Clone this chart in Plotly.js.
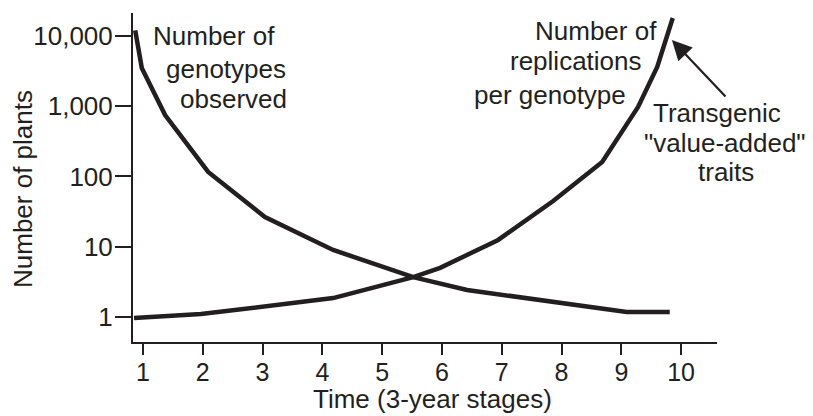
<!DOCTYPE html>
<html>
<head>
<meta charset="utf-8">
<script src="https://cdn.plot.ly/plotly-3.0.1.min.js"></script>
<style>html,body{margin:0;padding:0;background:#fff;}#chart{width:813px;height:416px;}</style>
</head>
<body>
<div id="chart"></div>
<script>
// Time stages (x) and number of plants (y)
const genotypeStages = [0.87, 0.98, 1.37, 2.09, 3.04, 4.18, 5.52, 6.42, 9.09, 9.81];
const genotypeCounts = [12000, 3500, 750, 116, 26.5, 9.0, 3.7, 2.42, 1.18, 1.18];

const replicationStages = [0.85, 1.97, 4.18, 5.52, 5.97, 6.94, 7.86, 8.68, 9.28, 9.60, 9.86];
const replicationCounts = [0.97, 1.10, 1.86, 3.7, 5.0, 12.5, 44.8, 161, 975, 3620, 18000];

const xTickVals = [1, 2, 3, 4, 5, 6, 7, 8, 9, 10];
const xTickText = ["1", "2", "3", "4", "5", "6", "7", "8", "9", "10"];
const yTickVals = [1, 10, 100, 1000, 10000];
const yTickText = ["1", "10", "100", "1,000", "10,000"];

const ink = '#231f20';
const FONT = 'Liberation Sans, Arial, Helvetica, sans-serif';
const FS = 26;

const traces = [
  {x: genotypeStages, y: genotypeCounts, type: 'scatter', mode: 'lines',
   name: 'Number of genotypes observed', line: {color: ink, width: 4.5}},
  {x: replicationStages, y: replicationCounts, type: 'scatter', mode: 'lines',
   name: 'Number of replications per genotype', line: {color: ink, width: 4.5}}
];

// plot area: left 133, right 717, top 13, bottom 342 (pixels)
const L = 133, R = 717, T = 13, B = 342;
const px = v => (v - L) / (R - L);
const py = v => (B - v) / (B - T);
const annFont = {family: FONT, size: FS, color: ink};
function label(text, x, y, xanchor, extra) {
  return Object.assign({text: text, xref: 'paper', yref: 'paper', x: px(x), y: py(y),
    xanchor: xanchor, yanchor: 'middle', showarrow: false, font: annFont}, extra || {});
}

const layout = {
  width: 813, height: 416,
  margin: {l: L, r: 813 - R, t: T, b: 416 - B},
  paper_bgcolor: '#fff', plot_bgcolor: '#fff',
  showlegend: false,
  font: {family: FONT, size: FS, color: ink},
  xaxis: {
    range: [0.833, 10.6], tickvals: xTickVals, ticktext: xTickText,
    showgrid: false, zeroline: false, showline: true, linecolor: ink, linewidth: 2,
    ticks: 'outside', ticklen: 11, tickwidth: 2, tickcolor: ink, ticklabelstandoff: -4,
    tickfont: {family: FONT, size: 25, color: ink}
  },
  yaxis: {
    type: 'log', range: [-0.356, 4.327], tickvals: yTickVals, ticktext: yTickText,
    showgrid: false, zeroline: false, showline: true, linecolor: ink, linewidth: 2,
    ticks: 'outside', ticklen: 16, tickwidth: 2, tickcolor: ink, ticklabelstandoff: -3,
    tickfont: {family: FONT, size: FS, color: ink}
  },
  annotations: [
    label('Time (3-year stages)', 432, 399, 'center'),
    label('Number of plants', 23, 189, 'center', {textangle: -90}),
    label('Number of', 277, 35.5, 'right'),
    label('genotypes', 288, 68.5, 'right'),
    label('observed', 289, 98.5, 'right'),
    label('Number of', 659, 31, 'right'),
    label('replications', 644, 61.5, 'right'),
    label('per genotype', 628, 94.5, 'right'),
    label('Transgenic', 717, 113, 'center'),
    label('"value-added"', 725, 143, 'center'),
    label('traits', 726, 172, 'center'),
    {text: '', xref: 'x', yref: 'y', x: 9.846, y: 3.943, ax: 55, ay: 58,
     showarrow: true, arrowhead: 2, arrowsize: 1.8, arrowwidth: 2.2, arrowcolor: ink, standoff: 0}
  ]
};

Plotly.newPlot('chart', traces, layout, {displayModeBar: false, staticPlot: true});
</script>
</body>
</html>
